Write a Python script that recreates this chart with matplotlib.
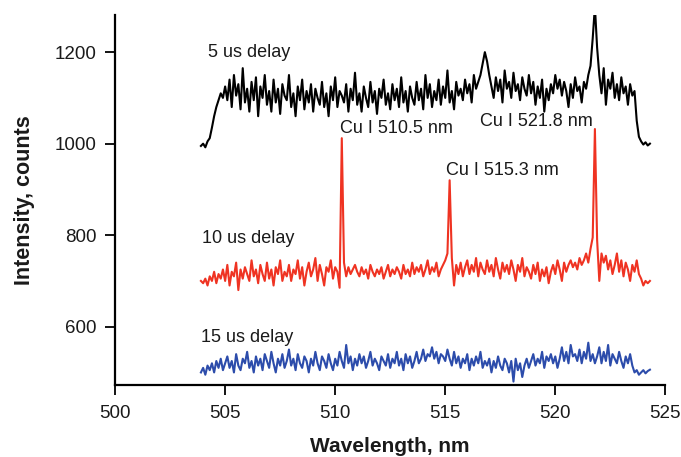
import matplotlib
matplotlib.use("Agg")
import matplotlib.pyplot as plt
import numpy as np

# spectra sampled every 0.1 nm starting at 503.9 nm
start_nm = 503.9
step_nm = 0.1

delay5 = [
    995, 1000, 992, 1005, 1012, 1035, 1060, 1080, 1095, 1110,
    1100, 1125, 1095, 1140, 1080, 1150, 1105, 1130, 1075, 1165,
    1090, 1120, 1070, 1135, 1095, 1145, 1060, 1125, 1100, 1150,
    1085, 1115, 1070, 1140, 1090, 1120, 1065, 1130, 1105, 1095,
    1150, 1080, 1110, 1060, 1125, 1095, 1140, 1075, 1115, 1090,
    1130, 1070, 1120, 1100, 1085, 1135, 1080, 1110, 1060, 1125,
    1095, 1145, 1080, 1115, 1105, 1090, 1130, 1070, 1120, 1095,
    1155, 1085, 1110, 1070, 1125, 1100, 1080, 1135, 1090, 1115,
    1065, 1120, 1100, 1140, 1085, 1110, 1075, 1130, 1095, 1120,
    1080, 1145, 1090, 1115, 1070, 1125, 1100, 1085, 1135, 1095,
    1120, 1075, 1150, 1100, 1130, 1080, 1115, 1095, 1140, 1085,
    1125, 1100, 1160, 1090, 1115, 1075, 1135, 1105, 1120, 1095,
    1140, 1110, 1130, 1090, 1150, 1120, 1135, 1150, 1175, 1200,
    1180, 1150, 1125, 1100, 1145, 1115, 1140, 1090, 1160, 1120,
    1135, 1100, 1155, 1115, 1130, 1095, 1145, 1120, 1105, 1150,
    1110, 1135, 1085, 1125, 1100, 1140, 1070, 1120, 1095, 1130,
    1110, 1150, 1120, 1140, 1105, 1135, 1115, 1080, 1130, 1100,
    1145, 1115, 1125, 1090, 1135, 1120, 1150, 1170, 1230, 1300,
    1210, 1150, 1110, 1165, 1085, 1140, 1120, 1155, 1100, 1130,
    1095, 1145, 1110, 1125, 1085, 1130, 1105, 1115, 1050, 1015,
    1005, 998, 1003, 996, 1000,
]

delay10 = [
    700, 695, 705, 690, 710, 700, 720, 695, 715, 705,
    725, 700, 735, 690, 720, 710, 740, 680, 725, 705,
    730, 715, 700, 745, 710, 725, 695, 735, 715, 700,
    740, 705, 725, 690, 730, 715, 745, 700, 720, 710,
    735, 700, 725, 715, 745, 705, 730, 690, 720, 740,
    710, 725, 750, 700, 735, 715, 690, 730, 720, 745,
    705, 730, 720, 685, 1012, 740, 710, 730, 715, 725,
    735, 720, 710, 730, 715, 725, 705, 735, 720, 710,
    725, 715, 730, 705, 720, 735, 710, 725, 715, 730,
    720, 705, 735, 715, 725, 710, 740, 715, 730, 720,
    735, 710, 725, 745, 715, 730, 720, 740, 710, 725,
    735, 745, 760, 920, 750, 690, 735, 715, 740, 710,
    730, 745, 715, 735, 720, 750, 710, 740, 725, 715,
    745, 720, 735, 710, 750, 725, 705, 740, 720, 735,
    715, 745, 725, 700, 735, 720, 750, 710, 730, 720,
    705, 735, 715, 740, 700, 725, 710, 730, 695, 720,
    735, 715, 745, 725, 700, 740, 720, 735, 745, 730,
    740, 725, 750, 735, 745, 760, 740, 770, 795, 1032,
    790, 700, 760, 740, 755, 725, 745, 715, 735, 760,
    720, 745, 710, 740, 725, 700, 735, 720, 745, 715,
    705, 690, 700, 695, 700,
]

delay15 = [
    500, 510, 495, 515, 505, 520, 500, 525, 510, 530,
    505, 520, 535, 510, 525, 500, 540, 515, 505, 530,
    520, 545, 510, 525, 500, 535, 515, 530, 505, 540,
    525, 510, 545, 520, 500, 530, 515, 540, 510, 525,
    550, 515, 530, 505, 540, 520, 510, 535, 525, 500,
    530, 515, 545, 520, 505, 535, 525, 510, 540, 520,
    505, 530, 515, 545, 525, 510, 560, 520, 535, 505,
    530, 515, 540, 520, 535, 510, 525, 545, 515, 530,
    520, 505, 535, 525, 515, 540, 510, 530, 520, 545,
    515, 530, 505, 540, 520, 535, 510, 525, 545, 520,
    530, 550, 525, 540, 535, 555, 530, 545, 520, 540,
    535, 525, 550, 530, 515, 545, 520, 535, 510, 530,
    520, 540, 505, 530, 515, 535, 520, 545, 510, 525,
    515, 530, 500, 525, 510, 535, 515, 505, 530, 520,
    500, 525, 480, 530, 505, 520, 490, 515, 530, 510,
    525, 540, 515, 530, 520, 545, 510, 535, 525, 540,
    520, 535, 510, 530, 555, 525, 545, 520, 560, 535,
    540, 525, 550, 520, 545, 530, 565, 525, 540, 520,
    535, 555, 520, 545, 525, 560, 515, 540, 530, 520,
    545, 525, 510, 535, 520, 540, 515, 500, 505, 495,
    500, 505, 498, 503, 506,
]

series = [
    (delay5, "black"),
    (delay10, "#ef3322"),
    (delay15, "#2c4cab"),
]

plt.rcParams["font.family"] = ["Liberation Sans", "DejaVu Sans"]

fig = plt.figure(figsize=(6.81, 4.57), dpi=100)
ax = fig.add_axes([0.169, 0.158, 0.808, 0.809])

for vals, col in series:
    wl = start_nm + step_nm * np.arange(len(vals))
    ax.plot(wl, vals, color=col, lw=1.5)

ax.set_xlim(500, 525)
ax.set_ylim(473, 1281)
ax.set_xticks([500, 505, 510, 515, 520, 525])
ax.set_yticks([600, 800, 1000, 1200])
for s in ["top", "right"]:
    ax.spines[s].set_visible(False)
for s in ["left", "bottom"]:
    ax.spines[s].set_linewidth(1.6)
ax.tick_params(direction="out", length=7.5, width=1.3, labelsize=13.5,
               labelcolor="#1a1a1a")
ax.tick_params(axis="x", pad=7)
ax.tick_params(axis="y", pad=6)

ax.set_xlabel("Wavelength, nm", fontsize=15, fontweight="bold", labelpad=11,
              color="#1a1a1a")
ax.set_ylabel("Intensity, counts", fontsize=15.5, fontweight="bold", labelpad=14,
              color="#1a1a1a")

txt = dict(fontsize=13, va="center", ha="left", color="#1a1a1a")
ax.text(504.2, 1200, "5 us delay", **txt)
ax.text(503.95, 792, "10 us delay", **txt)
ax.text(503.9, 576, "15 us delay", **txt)
ax.text(510.2, 1034, "Cu I 510.5 nm", **txt)
ax.text(515.05, 942, "Cu I 515.3 nm", **txt)
ax.text(516.6, 1049, "Cu I 521.8 nm", **txt)

fig.savefig("out.png", dpi=100)
